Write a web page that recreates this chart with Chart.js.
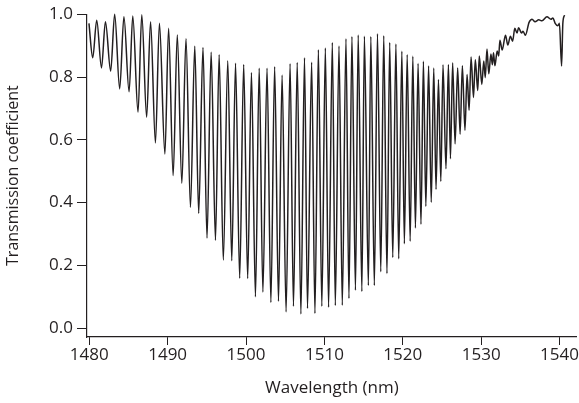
<!DOCTYPE html>
<html>
<head>
<meta charset="utf-8">
<script src="https://cdn.jsdelivr.net/npm/chart.js@4.4.1/dist/chart.umd.min.js"></script>
<style>
  html, body { margin: 0; padding: 0; background: #ffffff; }
  #wrap { width: 579px; height: 403px; }
</style>
</head>
<body>
<div id="wrap"><canvas id="c" width="579" height="403"></canvas></div>
<script>
// Wavelength (nm) of each read extremum / trace point
const wavelength = [1479.96,1480.44,1480.95,1481.56,1482.06,1482.73,1483.24,1483.88,1484.42,1485.08,
1485.55,1486.22,1486.70,1487.32,1487.82,1488.44,1488.95,1489.65,1490.12,1490.70,
1491.23,1491.81,1492.34,1492.91,1493.46,1493.96,1494.51,1495.02,1495.55,1496.10,
1496.57,1497.10,1497.67,1498.18,1498.66,1499.19,1499.70,1500.21,1500.69,1501.20,
1501.68,1502.15,1502.68,1503.17,1503.65,1504.14,1504.60,1505.11,1505.62,1506.05,
1506.53,1507.00,1507.46,1507.84,1508.37,1508.79,1509.23,1509.67,1510.12,1510.53,
1511.01,1511.39,1511.86,1512.28,1512.75,1513.13,1513.51,1513.96,1514.31,1514.78,
1515.10,1515.61,1515.92,1516.37,1516.77,1517.19,1517.57,1517.98,1518.33,1518.72,
1519.12,1519.48,1519.88,1520.20,1520.56,1520.94,1521.28,1521.61,1521.95,1522.32,
1522.63,1522.94,1523.29,1523.63,1523.95,1524.24,1524.55,1524.85,1525.13,1525.51,
1525.82,1526.08,1526.36,1526.67,1527.00,1527.31,1527.60,1527.93,1528.20,1528.46,
1528.71,1529.02,1529.25,1529.56,1529.76,1530.08,1530.33,1530.52,1530.74,1530.97,
1531.24,1531.43,1531.57,1531.75,1532.04,1532.23,1532.39,1532.68,1533.10,1533.40,
1533.73,1534.01,1534.29,1534.58,1534.77,1535.15,1535.34,1535.64,1536.11,1536.49,
1536.87,1537.34,1537.76,1538.39,1538.90,1539.15,1539.44,1539.79,1539.98,1540.26,
1540.42,1540.64];

// Transmission coefficient at each point
const transmission = [0.971,0.861,0.981,0.829,0.976,0.819,1.000,0.762,0.992,0.753,
0.994,0.688,0.998,0.672,0.976,0.590,0.971,0.555,0.955,0.486,
0.934,0.462,0.922,0.385,0.898,0.366,0.894,0.287,0.879,0.280,
0.871,0.217,0.852,0.215,0.844,0.159,0.840,0.158,0.814,0.100,
0.828,0.115,0.828,0.082,0.833,0.086,0.806,0.052,0.842,0.070,
0.846,0.045,0.861,0.063,0.847,0.047,0.887,0.070,0.892,0.067,
0.910,0.072,0.899,0.073,0.922,0.095,0.929,0.121,0.934,0.117,
0.930,0.136,0.929,0.136,0.938,0.180,0.931,0.174,0.910,0.225,
0.905,0.221,0.882,0.269,0.871,0.277,0.866,0.319,0.843,0.331,
0.850,0.388,0.835,0.401,0.829,0.442,0.792,0.467,0.839,0.508,
0.840,0.540,0.845,0.587,0.829,0.618,0.836,0.630,0.808,0.694,
0.864,0.735,0.855,0.757,0.867,0.776,0.851,0.798,0.889,0.810,
0.873,0.839,0.877,0.836,0.883,0.867,0.917,0.886,0.933,0.902,
0.930,0.914,0.955,0.940,0.957,0.940,0.946,0.933,0.974,0.984,
0.976,0.982,0.979,0.992,0.984,0.988,0.971,0.963,0.971,0.835,
0.971,0.997];

const xTickValues = [1480,1490,1500,1510,1520,1530,1540];
const yTickValues = [0.0,0.2,0.4,0.6,0.8,1.0];

const xTitle = 'Wavelength (nm)';
const yTitle = 'Transmission coefficient';

const points = wavelength.map((w, i) => ({ x: w, y: transmission[i] }));

const FONT = "'Open Sans', 'DejaVu Sans', sans-serif";
const INK = '#231f20';

new Chart(document.getElementById('c'), {
  type: 'line',
  data: {
    datasets: [{
      data: points,
      borderColor: INK,
      borderWidth: 1.5,
      pointRadius: 0,
      fill: false,
      cubicInterpolationMode: 'monotone',
      clip: false
    }]
  },
  options: {
    responsive: false,
    animation: false,
    devicePixelRatio: 1,
    layout: { padding: { top: 11, right: 0, left: 0, bottom: 0 } },
    plugins: { legend: { display: false }, tooltip: { enabled: false } },
    scales: {
      x: {
        type: 'linear',
        min: 1479.71,
        max: 1542.2,
        afterBuildTicks: s => { s.ticks = xTickValues.map(v => ({ value: v })); },
        afterFit: s => { s.height = 66; },
        ticks: {
          color: INK,
          font: { family: FONT, size: 17 },
          padding: 0,
          maxRotation: 0,
          autoSkip: false,
          callback: v => String(v)
        },
        grid: { display: true, drawOnChartArea: false, drawTicks: true, tickLength: 8, color: INK, lineWidth: 1 },
        border: { display: true, color: INK, width: 1.2 },
        title: { display: true, text: xTitle, color: INK, font: { family: FONT, size: 17 }, padding: { top: 2, bottom: 5 } }
      },
      y: {
        type: 'linear',
        min: -0.028,
        max: 1.0,
        afterBuildTicks: s => { s.ticks = yTickValues.map(v => ({ value: v })); },
        afterFit: s => { s.width = 87; },
        ticks: {
          color: INK,
          font: { family: FONT, size: 17 },
          padding: 4,
          autoSkip: false,
          callback: v => Number(v).toFixed(1)
        },
        grid: { display: true, drawOnChartArea: false, drawTicks: true, tickLength: 10, color: INK, lineWidth: 1 },
        border: { display: true, color: INK, width: 1.2 },
        title: { display: true, text: yTitle, color: INK, font: { family: FONT, size: 16 }, padding: { top: 4, bottom: 6 } }
      }
    }
  }
});
</script>
</body>
</html>
